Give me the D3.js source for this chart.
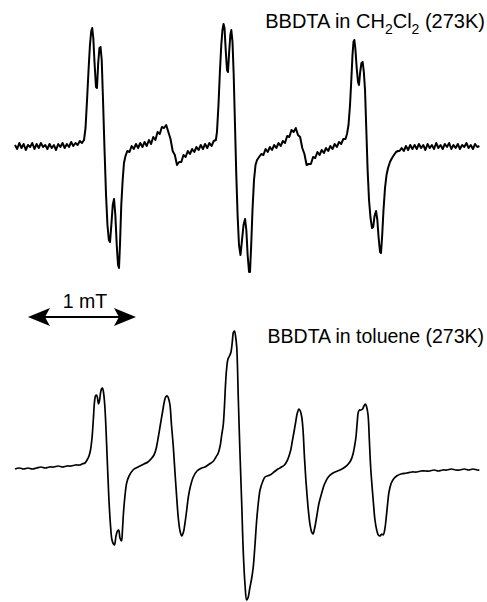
<!DOCTYPE html>
<html>
<head>
<meta charset="utf-8">
<script src="https://cdn.jsdelivr.net/npm/d3@7"></script>
<style>
  body { margin: 0; background: #fff; }
  text { font-family: "Liberation Sans", Arial, sans-serif; fill: #000; }
</style>
</head>
<body>
<div id="viz"></div>
<script>
// EPR spectra of BBDTA, field in mT (relative), signal in arbitrary units

// CH2Cl2 spectrum [field, signal]
var topTrace = [
  [0.00,1],[0.02,-3],[0.04,3],[0.06,-2],[0.08,2],[0.10,-4],[0.12,1],[0.14,-1],[0.16,3],[0.18,-3],
  [0.20,2],[0.22,-2],[0.24,3],[0.26,-1],[0.28,1],[0.30,-3],[0.32,2],[0.34,-2],[0.36,1],[0.38,-4],
  [0.40,2],[0.42,-1],[0.44,3],[0.46,-2],[0.48,2],[0.50,-1],[0.52,4],[0.54,0],[0.56,3],[0.58,1],
  [0.60,5],[0.62,3],
  [0.639,6],[0.653,18],[0.667,46],[0.681,76],[0.694,101],[0.706,115],[0.715,118],[0.725,108],
  [0.736,84],[0.750,59],[0.759,58],[0.771,84],[0.782,98],[0.792,99],[0.803,86],[0.815,46],
  [0.829,-4],[0.843,-49],[0.856,-79],[0.869,-94],[0.880,-96],[0.892,-79],[0.905,-59],[0.917,-53],
  [0.929,-69],[0.942,-99],[0.954,-119],[0.963,-122],[0.972,-99],[0.984,-59],[0.997,-34],[1.009,-17],
  [1.023,-10],
  [1.04,-5],[1.06,-6],[1.08,0],[1.10,-3],[1.12,2],[1.14,-2],[1.16,3],[1.18,-1],[1.20,4],[1.22,0],
  [1.24,6],[1.26,2],[1.28,9],[1.30,6],[1.32,14],[1.34,12],[1.36,19],[1.38,18],[1.40,21],[1.42,14],
  [1.44,7],[1.46,-5],[1.48,-9],[1.50,-19],[1.52,-16],[1.54,-16],[1.56,-9],[1.58,-11],[1.60,-5],[1.62,-8],
  [1.64,-3],[1.66,-6],[1.68,-1],[1.70,-4],[1.72,1],[1.74,-3],[1.76,2],[1.78,-2],[1.80,3],[1.82,0],
  [1.84,5],[1.86,6],
  [1.870,14],[1.884,41],[1.898,76],[1.910,101],[1.921,116],[1.931,122],[1.940,118],[1.951,96],
  [1.963,76],[1.972,74],[1.983,94],[1.994,111],[2.003,116],[2.014,104],[2.025,71],[2.037,21],
  [2.049,-29],[2.061,-69],[2.074,-99],[2.088,-109],[2.102,-94],[2.116,-79],[2.130,-73],[2.142,-84],
  [2.154,-109],[2.167,-126],[2.176,-126],[2.187,-99],[2.199,-64],[2.213,-34],[2.227,-19],[2.241,-14],
  [2.26,-11],[2.28,-8],[2.30,-9],[2.32,-3],[2.34,-6],[2.36,-1],[2.38,-4],[2.40,1],[2.42,-2],[2.44,3],
  [2.46,0],[2.48,5],[2.50,3],[2.52,10],[2.54,9],[2.56,16],[2.58,14],[2.60,18],[2.62,11],[2.64,9],
  [2.66,-2],[2.68,-8],[2.70,-19],[2.72,-18],[2.74,-18],[2.76,-11],[2.78,-12],[2.80,-6],[2.82,-9],[2.84,-4],
  [2.86,-7],[2.88,-2],[2.90,-5],[2.92,0],[2.94,-3],[2.96,2],[2.98,-1],[3.00,4],[3.02,2],[3.04,7],
  [3.06,7],
  [3.074,12],[3.088,21],[3.102,41],[3.114,66],[3.125,91],[3.134,104],[3.142,106],[3.151,98],
  [3.164,78],[3.176,64],[3.185,61],[3.196,74],[3.208,83],[3.219,84],[3.230,74],[3.241,56],
  [3.253,16],[3.265,-24],[3.278,-54],[3.292,-72],[3.306,-82],[3.317,-81],[3.329,-70],[3.343,-65],
  [3.355,-74],[3.367,-92],[3.380,-106],[3.389,-107],[3.400,-89],[3.412,-64],[3.426,-42],[3.440,-29],
  [3.454,-22],[3.472,-16],[3.491,-12],[3.509,-9],[3.528,-6],[3.546,-5],
  [3.56,-5],[3.58,-2],[3.60,-5],[3.62,0],[3.64,-4],[3.66,1],[3.68,-3],[3.70,1],[3.72,-3],[3.74,2],
  [3.76,-2],[3.78,1],[3.80,-4],[3.82,2],[3.84,-2],[3.86,1],[3.88,-3],[3.90,3],[3.92,-2],[3.94,1],
  [3.96,-3],[3.98,2],[4.00,-1],[4.02,3],[4.04,-3],[4.06,1],[4.08,-2],[4.10,2],[4.12,-3],[4.14,1],
  [4.16,-1],[4.18,3],[4.20,-2],[4.22,1],[4.24,-3],[4.26,2],[4.28,-1],[4.30,0]
];

// toluene spectrum [field, signal]
var bottomTrace = [
  [0.00,0],[0.04,1],[0.08,0],[0.12,1],[0.16,0],[0.20,1],[0.24,2],[0.28,1],[0.32,2],[0.36,2],
  [0.40,3],[0.44,2],[0.48,3],[0.52,3],[0.56,4],[0.60,4],[0.62,5],
  [0.648,6],[0.667,9],[0.685,13],[0.699,19],[0.713,31],[0.725,49],[0.736,67],[0.745,73],
  [0.755,74],[0.764,71],[0.773,65],[0.782,68],[0.792,76],[0.801,80],[0.810,81],[0.819,77],
  [0.831,64],[0.843,39],[0.856,4],[0.870,-31],[0.884,-56],[0.898,-71],[0.912,-75],[0.921,-76],
  [0.935,-67],[0.949,-62],[0.960,-61],[0.972,-69],[0.986,-72],[0.995,-61],[1.005,-43],[1.019,-26],
  [1.034,-14],[1.056,-7],[1.093,-1],[1.120,1],[1.157,3],[1.194,5],[1.231,7],[1.259,10],[1.287,14],
  [1.306,20],[1.327,32],[1.347,45],[1.366,57],[1.382,67],[1.395,72],[1.410,73],[1.423,70],
  [1.435,64],[1.449,44],[1.466,22],[1.481,-3],[1.497,-28],[1.512,-49],[1.528,-62],[1.544,-67],
  [1.560,-63],[1.574,-54],[1.590,-41],[1.605,-28],[1.625,-17],[1.651,-8],[1.685,-2],[1.729,1],
  [1.759,2],[1.787,4],[1.815,6],[1.838,8],[1.861,12],[1.882,16],[1.901,24],[1.914,34],
  [1.928,44],[1.940,64],[1.949,84],[1.960,101],[1.972,110],[1.986,113],[2.000,117],[2.012,127],
  [2.023,137],[2.032,138],[2.042,133],[2.053,122],[2.068,69],[2.083,16],[2.099,-34],[2.114,-84],
  [2.130,-116],[2.145,-131],[2.157,-129],[2.176,-118],[2.192,-109],[2.206,-98],[2.222,-76],[2.238,-51],
  [2.253,-34],[2.269,-21],[2.292,-13],[2.315,-8],[2.361,-6],[2.398,-3],[2.435,0],[2.468,2],
  [2.495,4],[2.519,8],[2.537,13],[2.553,19],[2.568,28],[2.583,37],[2.599,47],[2.614,56],
  [2.630,60],[2.642,58],[2.655,52],[2.667,39],[2.679,14],[2.692,-9],[2.704,-26],[2.716,-41],
  [2.731,-55],[2.747,-63],[2.759,-65],[2.773,-60],[2.793,-48],[2.815,-34],[2.840,-24],[2.866,-15],
  [2.901,-8],[2.944,-4],[3.009,-1],[3.056,2],[3.086,5],[3.111,9],[3.130,15],[3.146,24],
  [3.157,32],[3.169,47],[3.179,57],[3.190,59],[3.204,59],[3.218,60],[3.231,63],[3.245,65],
  [3.256,62],[3.269,54],[3.281,29],[3.292,4],[3.303,-13],[3.318,-33],[3.333,-51],[3.349,-61],
  [3.364,-66],[3.380,-67],[3.396,-65],[3.410,-66],[3.423,-61],[3.435,-51],[3.449,-36],[3.463,-23],
  [3.481,-15],[3.505,-10],[3.534,-7],[3.574,-5],[3.627,-4],[3.676,-3],[3.72,-3],[3.76,-2],
  [3.80,-2],[3.84,-2],[3.88,-1],[3.92,-2],[3.96,-1],[4.00,-1],[4.04,0],[4.08,-1],[4.12,-1],
  [4.16,0],[4.20,-1],[4.24,0],[4.28,-1],[4.30,-1]
];

var barStart = 0.12;   // mT, left end of the scale bar
var barLength = 1;     // mT
var barLabel = "1 mT";

var svg = d3.select("#viz")
    .append("svg")
    .attr("width", 487)
    .attr("height", 602);

var x = d3.scaleLinear().domain([0, 4.3]).range([15, 479.4]);
var yTop = d3.scaleLinear().domain([-130, 130]).range([276, 16]);
var yBot = d3.scaleLinear().domain([-135, 140]).range([604, 329]);

// noisy trace: straight segments keep the noise jagged
var lineTop = d3.line()
    .x(function(d){ return x(d[0]); })
    .y(function(d){ return yTop(d[1]); });

var lineBot = d3.line()
    .x(function(d){ return x(d[0]); })
    .y(function(d){ return yBot(d[1]); })
    .curve(d3.curveCatmullRom.alpha(0.5));

svg.append("path")
    .datum(topTrace)
    .attr("d", lineTop)
    .attr("fill", "none")
    .attr("stroke", "#000")
    .attr("stroke-width", 2)
    .attr("stroke-linejoin", "round");

svg.append("path")
    .datum(bottomTrace)
    .attr("d", lineBot)
    .attr("fill", "none")
    .attr("stroke", "#000")
    .attr("stroke-width", 1.7)
    .attr("stroke-linejoin", "round");

// labels
var t1 = svg.append("text")
    .attr("x", 485)
    .attr("y", 28)
    .attr("text-anchor", "end")
    .style("font-size", "20px");
t1.append("tspan").text("BBDTA in CH");
t1.append("tspan").text("2").attr("dy", 6).style("font-size", "14px");
t1.append("tspan").text("Cl").attr("dy", -6);
t1.append("tspan").text("2").attr("dy", 6).style("font-size", "14px");
t1.append("tspan").text(" (273K)").attr("dy", -6);

svg.append("text")
    .attr("x", 484)
    .attr("y", 343)
    .attr("text-anchor", "end")
    .style("font-size", "19.5px")
    .text("BBDTA in toluene (273K)");

// scale bar with double arrow
var x0 = x(barStart), x1 = x(barStart + barLength), yb = 317;
svg.append("line")
    .attr("x1", x0 + 14).attr("x2", x1 - 14)
    .attr("y1", yb).attr("y2", yb)
    .attr("stroke", "#000").attr("stroke-width", 2);

svg.append("path")
    .attr("d", "M" + x0 + "," + yb + "L" + (x0 + 22) + "," + (yb - 9) +
               "L" + (x0 + 17) + "," + yb + "L" + (x0 + 22) + "," + (yb + 9) + "Z")
    .attr("fill", "#000");
svg.append("path")
    .attr("d", "M" + x1 + "," + yb + "L" + (x1 - 22) + "," + (yb - 9) +
               "L" + (x1 - 17) + "," + yb + "L" + (x1 - 22) + "," + (yb + 9) + "Z")
    .attr("fill", "#000");

svg.append("text")
    .attr("x", (x0 + x1) / 2 + 3)
    .attr("y", 308)
    .attr("text-anchor", "middle")
    .style("font-size", "19.5px")
    .text(barLabel);
</script>
</body>
</html>
